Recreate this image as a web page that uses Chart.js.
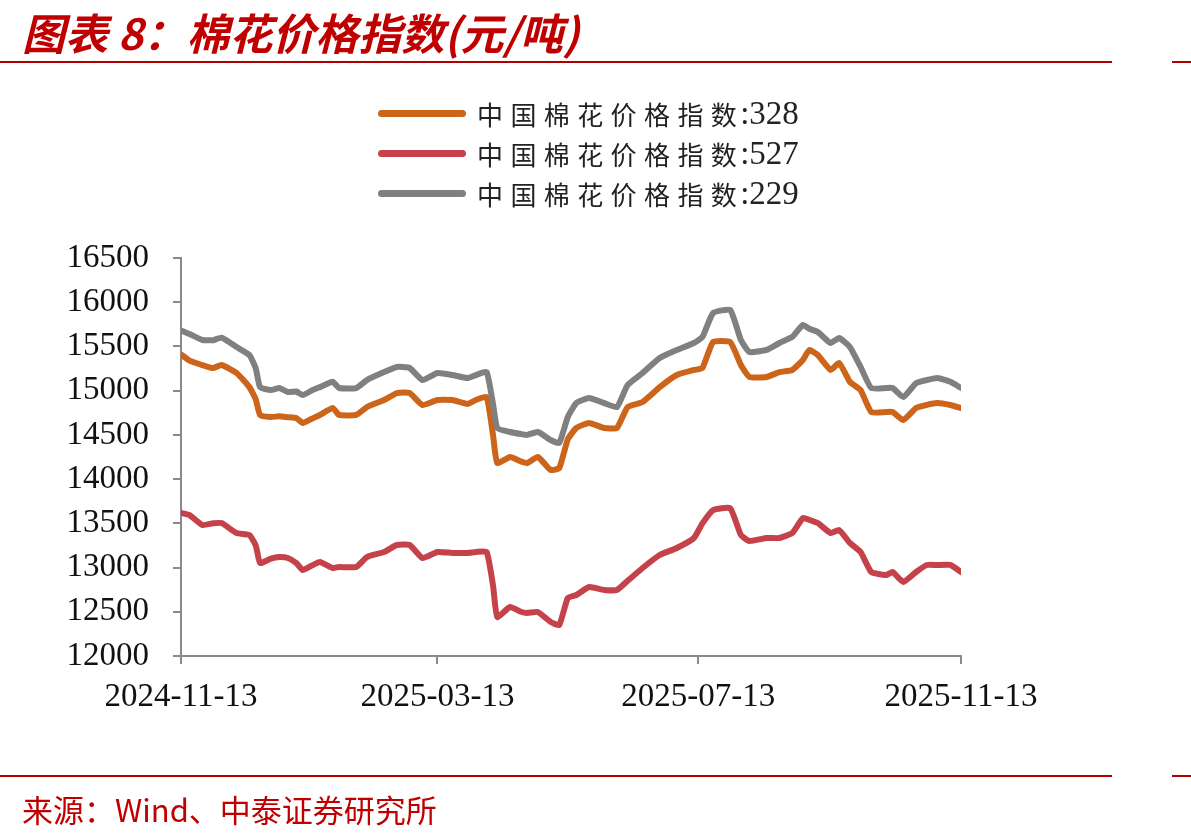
<!DOCTYPE html>
<html>
<head>
<meta charset="utf-8">
<script src="https://cdn.jsdelivr.net/npm/chart.js@4.4.1/dist/chart.umd.min.js"></script>
<style>
  html, body { margin: 0; padding: 0; background: #fff; }
  #wrap { position: relative; width: 1191px; height: 840px; overflow: hidden; }
  #myChart { position: absolute; left: 0; top: 0; }
  .title { position: absolute; left: 22px; top: 0px; font-family: "Noto Sans CJK SC", sans-serif; font-weight: bold; font-style: italic; font-size: 43px; color: #c00000; white-space: nowrap; }
  .rule { position: absolute; height: 2px; background: #b00000; }
  .source { position: absolute; left: 22px; top: 786px; font-family: "Noto Sans CJK SC", sans-serif; font-size: 31px; color: #c00000; white-space: nowrap; }
  .leg-row { position: absolute; left: 378px; height: 40px; display: flex; align-items: center; white-space: nowrap; }
  .leg-line { width: 88px; height: 7px; border-radius: 4px; margin-right: 11px; }
  .leg-cn { font-family: "Noto Sans CJK SC", sans-serif; font-size: 26px; letter-spacing: 7.4px; color: #222; }
  .leg-num { font-family: "Liberation Serif", serif; font-size: 33px; color: #222; margin-left: -4px; }
</style>
</head>
<body>
<div id="wrap">
  <canvas id="myChart" width="1191" height="840"></canvas>
  <div class="title">图表 8：棉花价格指数(元/吨)</div>
  <div class="rule" style="left:0; top:61px; width:1112px;"></div>
  <div class="rule" style="left:1172px; top:61px; width:19px;"></div>
  <div class="rule" style="left:0; top:775px; width:1112px;"></div>
  <div class="rule" style="left:1172px; top:775px; width:19px;"></div>
  <div class="source">来源：Wind、中泰证券研究所</div>
  <div id="legend"></div>
</div>
<script>
const dates = [
  '2024-11-13','2024-11-17','2024-11-23','2024-11-28','2024-12-02','2024-12-09','2024-12-15','2024-12-18',
  '2024-12-20','2024-12-25','2024-12-29','2025-01-02','2025-01-06','2025-01-09','2025-01-13','2025-01-17',
  '2025-01-23','2025-01-26','2025-02-03','2025-02-08','2025-02-16','2025-02-22','2025-02-28','2025-03-06',
  '2025-03-13','2025-03-20','2025-03-27','2025-03-31','2025-04-05','2025-04-08','2025-04-10','2025-04-16',
  '2025-04-21','2025-04-24','2025-04-29','2025-05-05','2025-05-09','2025-05-13','2025-05-17','2025-05-23',
  '2025-05-30','2025-06-05','2025-06-10','2025-06-17','2025-06-25','2025-07-03','2025-07-11','2025-07-15',
  '2025-07-20','2025-07-28','2025-08-02','2025-08-06','2025-08-14','2025-08-20','2025-08-26','2025-08-31',
  '2025-09-03','2025-09-07','2025-09-13','2025-09-17','2025-09-22','2025-09-27','2025-10-02','2025-10-09',
  '2025-10-12','2025-10-17','2025-10-23','2025-10-28','2025-11-02','2025-11-08','2025-11-13'
];

const cotton328 = [
  15410,15340,15290,15256,15290,15200,15040,14900,
  14725,14702,14710,14700,14690,14634,14680,14725,
  14804,14725,14725,14815,14894,14973,14973,14838,
  14894,14894,14850,14894,14928,14500,14182,14250,
  14200,14182,14250,14103,14125,14450,14578,14634,
  14578,14578,14815,14872,15040,15177,15234,15256,
  15550,15550,15290,15155,15155,15210,15234,15347,
  15460,15403,15234,15313,15100,15007,14759,14759,
  14759,14668,14804,14840,14860,14838,14804
];

const cotton527 = [
  13617,13594,13481,13500,13503,13390,13368,13250,
  13051,13100,13119,13108,13050,12972,13020,13063,
  12995,13006,13006,13119,13176,13255,13255,13108,
  13176,13165,13165,13176,13176,12800,12441,12554,
  12500,12486,12497,12384,12350,12656,12690,12780,
  12746,12746,12850,12995,13142,13221,13334,13500,
  13650,13670,13368,13300,13334,13334,13390,13560,
  13540,13503,13390,13424,13278,13176,12950,12916,
  12950,12837,12950,13029,13029,13029,12950
];

const cotton229 = [
  15680,15640,15573,15570,15600,15494,15403,15250,
  15040,15007,15030,14985,14990,14950,15000,15040,
  15100,15030,15030,15120,15210,15268,15256,15120,
  15200,15177,15143,15177,15210,14850,14578,14533,
  14510,14500,14533,14442,14408,14702,14860,14917,
  14860,14815,15064,15200,15369,15460,15539,15607,
  15878,15912,15573,15437,15460,15539,15607,15742,
  15700,15663,15539,15596,15494,15268,15030,15030,
  15030,14928,15086,15120,15143,15100,15030
];

const seriesNames = ['中国棉花价格指数:328', '中国棉花价格指数:527', '中国棉花价格指数:229'];
const seriesColors = ['#cc6419', '#c6424a', '#808080'];
const tickLabels = ['2024-11-13', '2025-03-13', '2025-07-13', '2025-11-13'];
const yTicks = [12000, 12500, 13000, 13500, 14000, 14500, 15000, 15500, 16000, 16500];

function dayOffset(s) {
  const [y, m, d] = s.split('-').map(Number);
  const [y0, m0, d0] = dates[0].split('-').map(Number);
  return Math.round((Date.UTC(y, m - 1, d) - Date.UTC(y0, m0 - 1, d0)) / 86400000);
}

const xs = dates.map(dayOffset);
const tickDays = tickLabels.map(dayOffset);
const toPoints = vals => vals.map((v, i) => ({ x: xs[i], y: v }));

const allSeries = [cotton328, cotton527, cotton229];
const drawOrder = [2, 1, 0];

const data = {
  datasets: allSeries.map((vals, i) => ({
    label: seriesNames[i],
    data: toPoints(vals),
    borderColor: seriesColors[i],
    backgroundColor: seriesColors[i],
    borderWidth: 6,
    pointRadius: 0,
    fill: false,
    tension: 0.15,
    borderJoinStyle: 'round',
    borderCapStyle: 'round',
    order: drawOrder[i]
  }))
};

const axisColor = '#8a8a8a';

const config = {
  type: 'line',
  data: data,
  options: {
    responsive: false,
    animation: false,
    events: [],
    layout: { padding: { left: 0, right: 230, top: 258, bottom: 0 } },
    plugins: {
      legend: { display: false },
      title: { display: false },
      tooltip: { enabled: false }
    },
    scales: {
      x: {
        type: 'linear',
        min: 0,
        max: tickDays[tickDays.length - 1],
        afterBuildTicks: scale => { scale.ticks = tickDays.map(v => ({ value: v })); },
        afterFit: scale => { scale.height = 840 - 656; },
        ticks: {
          autoSkip: false,
          maxRotation: 0,
          padding: 14,
          color: '#111',
          font: { family: 'Liberation Serif', size: 33 },
          callback: (v) => tickLabels[tickDays.indexOf(v)]
        },
        grid: { drawOnChartArea: false, drawTicks: true, tickLength: 8, tickColor: axisColor, lineWidth: 2 },
        border: { color: axisColor, width: 2 }
      },
      y: {
        min: yTicks[0],
        max: yTicks[yTicks.length - 1],
        afterBuildTicks: scale => { scale.ticks = yTicks.map(v => ({ value: v })); },
        afterFit: scale => { scale.width = 181; },
        ticks: {
          padding: 24,
          color: '#111',
          font: { family: 'Liberation Serif', size: 33 },
          callback: v => String(v)
        },
        grid: { drawOnChartArea: false, drawTicks: true, tickLength: 8, tickColor: axisColor, lineWidth: 2 },
        border: { color: axisColor, width: 2 }
      }
    }
  }
};

let myChart = new Chart(document.getElementById('myChart').getContext('2d'), config);

// legend drawn as html, one row per series
const legendTops = [93, 133, 173];
const legend = document.getElementById('legend');
seriesNames.forEach((name, i) => {
  const [cn, num] = name.split(':');
  const row = document.createElement('div');
  row.className = 'leg-row';
  row.style.top = legendTops[i] + 'px';
  row.innerHTML = '<div class="leg-line" style="background:' + seriesColors[i] + '"></div>' +
    '<span class="leg-cn">' + cn + '</span><span class="leg-num">:' + num + '</span>';
  legend.appendChild(row);
});
</script>
</body>
</html>
